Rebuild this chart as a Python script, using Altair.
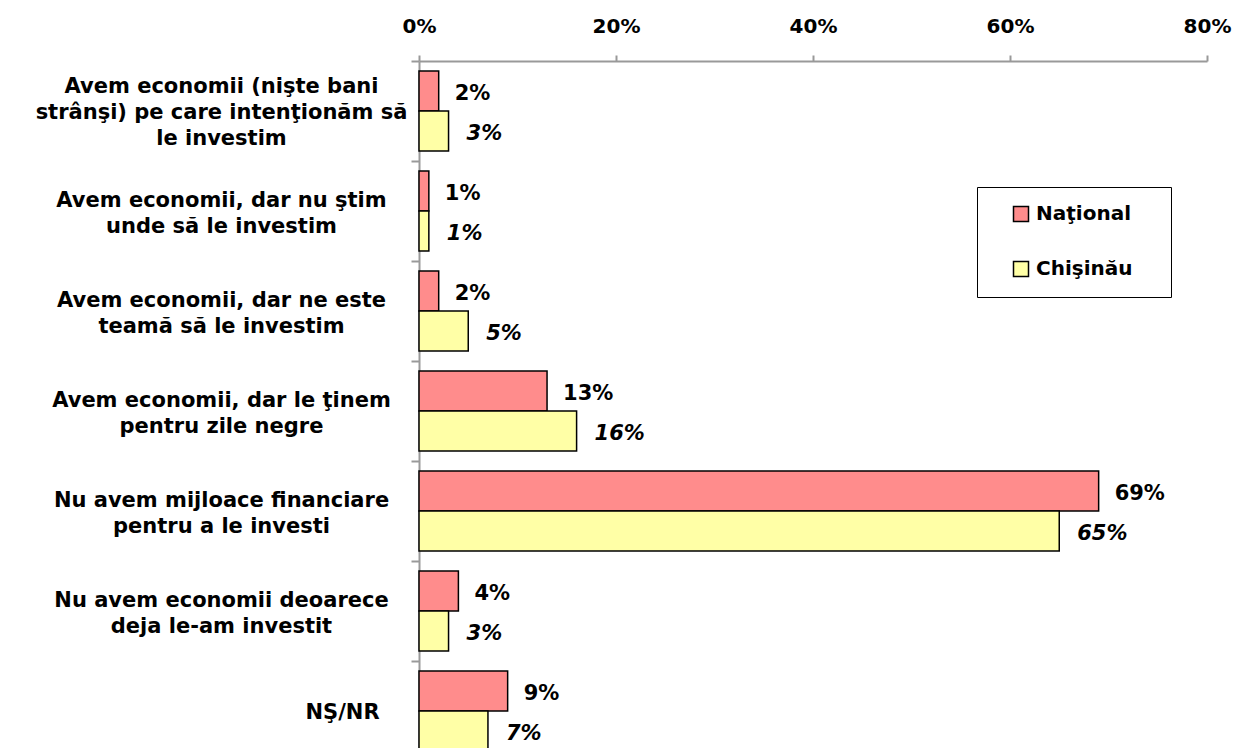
import altair as alt
import pandas as pd

categories = [
    "Avem economii (nişte bani\nstrânşi) pe care intenţionăm să\nle investim",
    "Avem economii, dar nu ştim\nunde să le investim",
    "Avem economii, dar ne este\nteamă să le investim",
    "Avem economii, dar le ţinem\npentru zile negre",
    "Nu avem mijloace financiare\npentru a le investi",
    "Nu avem economii deoarece\ndeja le-am investit",
    "NŞ/NR",
]
series = ["Naţional", "Chişinău"]
national = [2, 1, 2, 13, 69, 4, 9]
chisinau = [3, 1, 5, 16, 65, 3, 7]
x_ticks = [0, 20, 40, 60, 80]
colors = ["#FF8C8C", "#FFFFA6"]

rows = []
for c, n, k in zip(categories, national, chisinau):
    rows.append({"cat": c, "serie": series[0], "val": n})
    rows.append({"cat": c, "serie": series[1], "val": k})
df = pd.DataFrame(rows)

FONT = "DejaVu Sans"

y_scale = alt.Scale(paddingInner=0, paddingOuter=0, range=[0, 700])
y_enc = alt.Y(
    "cat:N",
    sort=categories,
    title=None,
    scale=y_scale,
    axis=alt.Axis(
        labelExpr="split(datum.label, '\\n')",
        labelAlign="center",
        labelBaseline="middle",
        labelFont=FONT,
        labelFontSize=21,
        labelFontWeight="bold",
        labelColor="black",
        labelLineHeight=26,
        labelLimit=0,
        labelPadding={"condition": {"test": "datum.value === 'NŞ/NR'", "value": 69}, "value": 190},
        labelOffset={
            "condition": [
                {"test": "length(split(datum.value, '\\n')) == 3", "value": -25},
                {"test": "length(split(datum.value, '\\n')) == 2", "value": -11},
            ],
            "value": 1,
        },
        tickBand="extent",
        tickSize=8,
        tickColor="#999999",
        tickWidth=2,
        domainColor="#999999",
        domainWidth=2,
    ),
)
yoff = alt.YOffset("serie:N", sort=series, scale=alt.Scale(paddingInner=0, paddingOuter=0.25))
x_enc = alt.X(
    "val:Q",
    title=None,
    scale=alt.Scale(domain=[0, 80], nice=False),
    axis=alt.Axis(
        orient="top",
        values=x_ticks,
        labelExpr="datum.value + '%'",
        labelFlush=False,
        labelFont=FONT,
        labelFontSize=20,
        labelFontWeight="bold",
        labelColor="black",
        labelPadding=19,
        tickSize=6,
        tickColor="#999999",
        tickWidth=2,
        domainColor="#999999",
        domainWidth=2,
        grid=False,
    ),
)

bars = alt.Chart(df).mark_bar(stroke="black", strokeWidth=1.5).encode(
    y=y_enc,
    yOffset=yoff,
    x=x_enc,
    color=alt.Color(
        "serie:N",
        sort=series,
        scale=alt.Scale(domain=series, range=colors),
        legend=alt.Legend(
            title=None,
            orient="none",
            legendX=558,
            legendY=126,
            fillColor="white",
            strokeColor="black",
            padding=17,
            symbolType="square",
            symbolSize=225,
            symbolStrokeColor="black",
            symbolStrokeWidth=1.5,
            symbolOffset=17,
            labelFont=FONT,
            labelFontSize=20,
            labelFontWeight="bold",
            labelColor="black",
            labelOffset=5,
            labelExpr="datum.label + '\\u00a0\\u00a0\\u00a0\\u200b'",
            rowPadding=33,
        ),
    ),
)

base_text = alt.Chart(df).transform_calculate(lbl="datum.val + '%'")
txt_nat = base_text.transform_filter(alt.datum.serie == series[0]).mark_text(
    align="left", baseline="middle", dx=16, dy=3, font=FONT, fontSize=21, fontWeight="bold", color="black"
).encode(y=alt.Y("cat:N", sort=categories, scale=y_scale), yOffset=yoff, x="val:Q", text="lbl:N")
txt_chi = base_text.transform_filter(alt.datum.serie == series[1]).mark_text(
    align="left", baseline="middle", dx=18, dy=3, font=FONT, fontSize=21, fontWeight="bold",
    fontStyle="italic", color="black"
).encode(y=alt.Y("cat:N", sort=categories, scale=y_scale), yOffset=yoff, x="val:Q", text="lbl:N")

chart = alt.layer(bars, txt_nat, txt_chi).properties(
    width=788,
    height=687,
    autosize=alt.AutoSizeParams(type="none"),
    padding={"left": 411, "top": 53, "right": 25, "bottom": 0},
).configure_view(stroke=None)

chart.save("out.html", embed_options={"renderer": "svg", "actions": False})
